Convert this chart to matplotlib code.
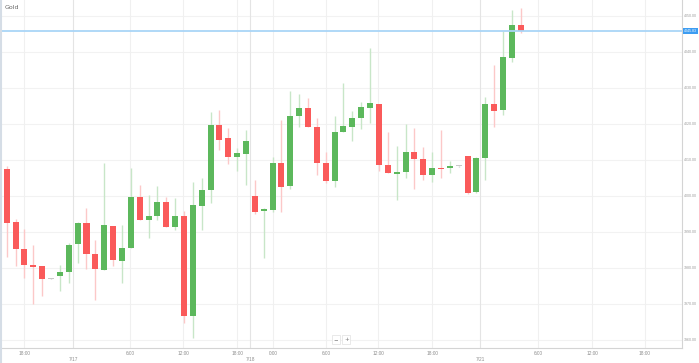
import matplotlib
matplotlib.use("Agg")
import matplotlib.pyplot as plt
import matplotlib.transforms as mtransforms
import numpy as np

# hourly gold candles (open, high, low, close)
opens = [4007.5, 3992.7, 3985.3, 3980.8, 3980.6, 3977.0, 3977.8, 3978.8, 3986.7, 3992.4,
         3984.0, 3979.4, 3991.8, 3982.0, 3985.5, 3999.6, 3993.2, 3994.5, 3998.4, 3991.3,
         3994.4, 3966.7, 3997.3, 4001.7, 4019.7, 4016.1, 4010.8, 4011.7, 4000.1, 3995.8,
         3996.1, 4009.2, 4002.8, 4022.2, 4024.5, 4019.3, 4009.1, 4004.2, 4017.7, 4019.3,
         4021.6, 4024.5, 4025.6, 4008.5, 4006.1, 4006.6, 4012.3, 4010.3, 4005.8, 4007.9,
         4007.7, 4008.2, 4011.1, 4001.1, 4010.5, 4025.6, 4023.9, 4038.2, 4047.5]
highs = [4008.3, 3993.5, 3990.8, 3986.4, 3980.6, 3977.1, 3980.8, 3986.9, 3992.9, 3996.6,
         3987.8, 4009.3, 3991.8, 3992.0, 4007.7, 4003.0, 4000.3, 4002.8, 3999.6, 3999.4,
         3995.9, 4004.0, 4004.9, 4023.3, 4023.9, 4018.9, 4013.3, 4018.3, 4004.4, 3996.7,
         4010.9, 4021.1, 4029.2, 4028.3, 4027.3, 4021.6, 4012.1, 4022.2, 4031.3, 4023.7,
         4026.2, 4041.0, 4025.6, 4017.9, 4013.9, 4019.9, 4018.8, 4013.5, 4012.1, 4018.3,
         4009.8, 4008.3, 4011.2, 4010.7, 4027.6, 4036.4, 4045.9, 4051.7, 4052.1]
lows = [3983.1, 3980.6, 3977.1, 3969.9, 3972.3, 3976.9, 3973.7, 3975.8, 3981.3, 3979.6,
        3971.1, 3979.4, 3980.6, 3975.9, 3985.5, 3993.2, 3988.4, 3993.3, 3991.3, 3990.6,
        3964.7, 3960.6, 3990.6, 3998.1, 4012.8, 4008.9, 4007.0, 4003.1, 3995.0, 3982.8,
        3995.6, 3995.6, 4001.9, 4019.1, 4019.3, 4005.8, 4003.5, 4002.6, 4017.7, 4015.3,
        4018.6, 4020.4, 4007.0, 4006.3, 3998.9, 4005.1, 4001.9, 4004.4, 4003.8, 4004.9,
        4006.5, 4008.1, 4000.5, 4000.9, 4004.4, 4019.1, 4022.5, 4037.3, 4045.2]
closes = [3992.6, 3985.2, 3980.8, 3980.4, 3977.0, 3977.0, 3978.8, 3986.4, 3992.4, 3983.8,
          3979.7, 3992.0, 3982.2, 3985.5, 3999.8, 3993.2, 3994.5, 3998.4, 3991.3, 3994.5,
          3966.7, 3997.5, 4001.7, 4019.7, 4015.6, 4010.8, 4011.9, 4015.3, 3995.6, 3996.4,
          4009.1, 4002.6, 4022.2, 4024.5, 4019.3, 4009.1, 4004.2, 4017.7, 4019.4, 4021.6,
          4024.6, 4025.7, 4008.6, 4006.3, 4006.7, 4012.3, 4010.3, 4005.8, 4007.9, 4007.4,
          4008.2, 4008.2, 4000.9, 4010.5, 4025.5, 4023.6, 4038.5, 4047.5, 4045.9]

last_price = 4045.83

price_ticks = [4050, 4040, 4030, 4020, 4010, 4000, 3990, 3980, 3970, 3960]
time_tick_pos = [2.0, 13.9, 19.9, 26.0, 30.05, 36.0, 41.9, 48.0, 59.95, 66.05, 72.0]
time_tick_labels = ["18:00", "6:00", "12:00", "18:00", "0:00", "6:00", "12:00", "18:00",
                    "6:00", "12:00", "18:00"]
date_tick_pos = [7.48, 27.45, 53.4]
date_tick_labels = ["7/17", "7/18", "7/21"]

UP = "#5cb85c"
DOWN = "#fa5a5a"
UP_WICK = "#c8e6c8"
DOWN_WICK = "#fcc8c8"
FLAT = "#c8c8c8"

fig = plt.figure(figsize=(6.99, 3.63), dpi=100)
ax = fig.add_axes([0.0, 15 / 363, 682 / 699, 348 / 363])

ax.set_xlim(-0.76, 76.2)
ax.set_ylim(3957.78, 4054.44)

# grid
for p in price_ticks:
    ax.axhline(p, color="#f2f2f2", lw=0.8, zorder=0)
for x in time_tick_pos:
    ax.axvline(x, color="#f0f0f0", lw=0.8, zorder=0)
for x in date_tick_pos:
    ax.axvline(x, color="#e4e4e4", lw=0.8, zorder=0)

idx = np.arange(len(opens))
width = 0.68
for i in idx:
    o, h, l, c = opens[i], highs[i], lows[i], closes[i]
    if c > o:
        col, wcol = UP, UP_WICK
    elif c < o:
        col, wcol = DOWN, DOWN_WICK
    else:
        col, wcol = FLAT, FLAT
    ax.vlines(i, l, h, color=wcol, lw=1.0, zorder=2)
    bottom = min(o, c)
    height = max(abs(c - o), 0.35)
    ax.bar(i, height, width, bottom=bottom, color=col, zorder=3, linewidth=0)

# last price line
ax.axhline(last_price, color="#a9d5f7", lw=1.3, zorder=4)

for s in ["top", "left"]:
    ax.spines[s].set_visible(False)
ax.spines["right"].set_color("#d4d4d4")
ax.spines["bottom"].set_color("#d4d4d4")
ax.spines["right"].set_linewidth(0.8)
ax.spines["bottom"].set_linewidth(0.8)
ax.set_xticks([])
ax.set_yticks([])

# price labels
ytr = mtransforms.blended_transform_factory(ax.transAxes, ax.transData)
for p in price_ticks:
    ax.text(1.003, p, "%.2f" % p, transform=ytr, fontsize=2.6, color="#9a9a9a",
            family="Liberation Sans", va="center", ha="left", clip_on=False)
ax.text(1.003, last_price, "%.2f" % last_price, transform=ytr, fontsize=2.6,
        family="Liberation Sans", color="white", va="center", ha="left", clip_on=False,
        bbox=dict(boxstyle="square,pad=0.3", fc="#3d9df2", ec="none"))

# time labels
xtr = mtransforms.blended_transform_factory(ax.transData, ax.transAxes)
for x, lab in zip(time_tick_pos, time_tick_labels):
    ax.text(x, -0.017, lab, transform=xtr, fontsize=3.4, color="#8c8c8c",
            family="Liberation Sans", ha="center", va="center", clip_on=False)
for x, lab in zip(date_tick_pos, date_tick_labels):
    ax.text(x, -0.034, lab, transform=xtr, fontsize=3.4, color="#8c8c8c",
            family="Liberation Sans", ha="center", va="center", clip_on=False)

ax.text(0.007, 0.985, "Gold", transform=ax.transAxes, fontsize=4.5, color="#666666",
        ha="left", va="top")

# zoom buttons
ax.text(0.492, 0.024, "\u2212", transform=ax.transAxes, fontsize=4, color="#777777",
        ha="center", va="center",
        bbox=dict(boxstyle="square,pad=0.3", fc="white", ec="#e0e0e0", lw=0.5))
ax.text(0.508, 0.024, "+", transform=ax.transAxes, fontsize=4, color="#777777",
        ha="center", va="center",
        bbox=dict(boxstyle="square,pad=0.3", fc="white", ec="#e0e0e0", lw=0.5))

# left frame edge
fig.add_artist(plt.Line2D([0.001, 0.001], [0, 1], color="#d5dde6", lw=1.5))

fig.savefig("out.png", dpi=100)
